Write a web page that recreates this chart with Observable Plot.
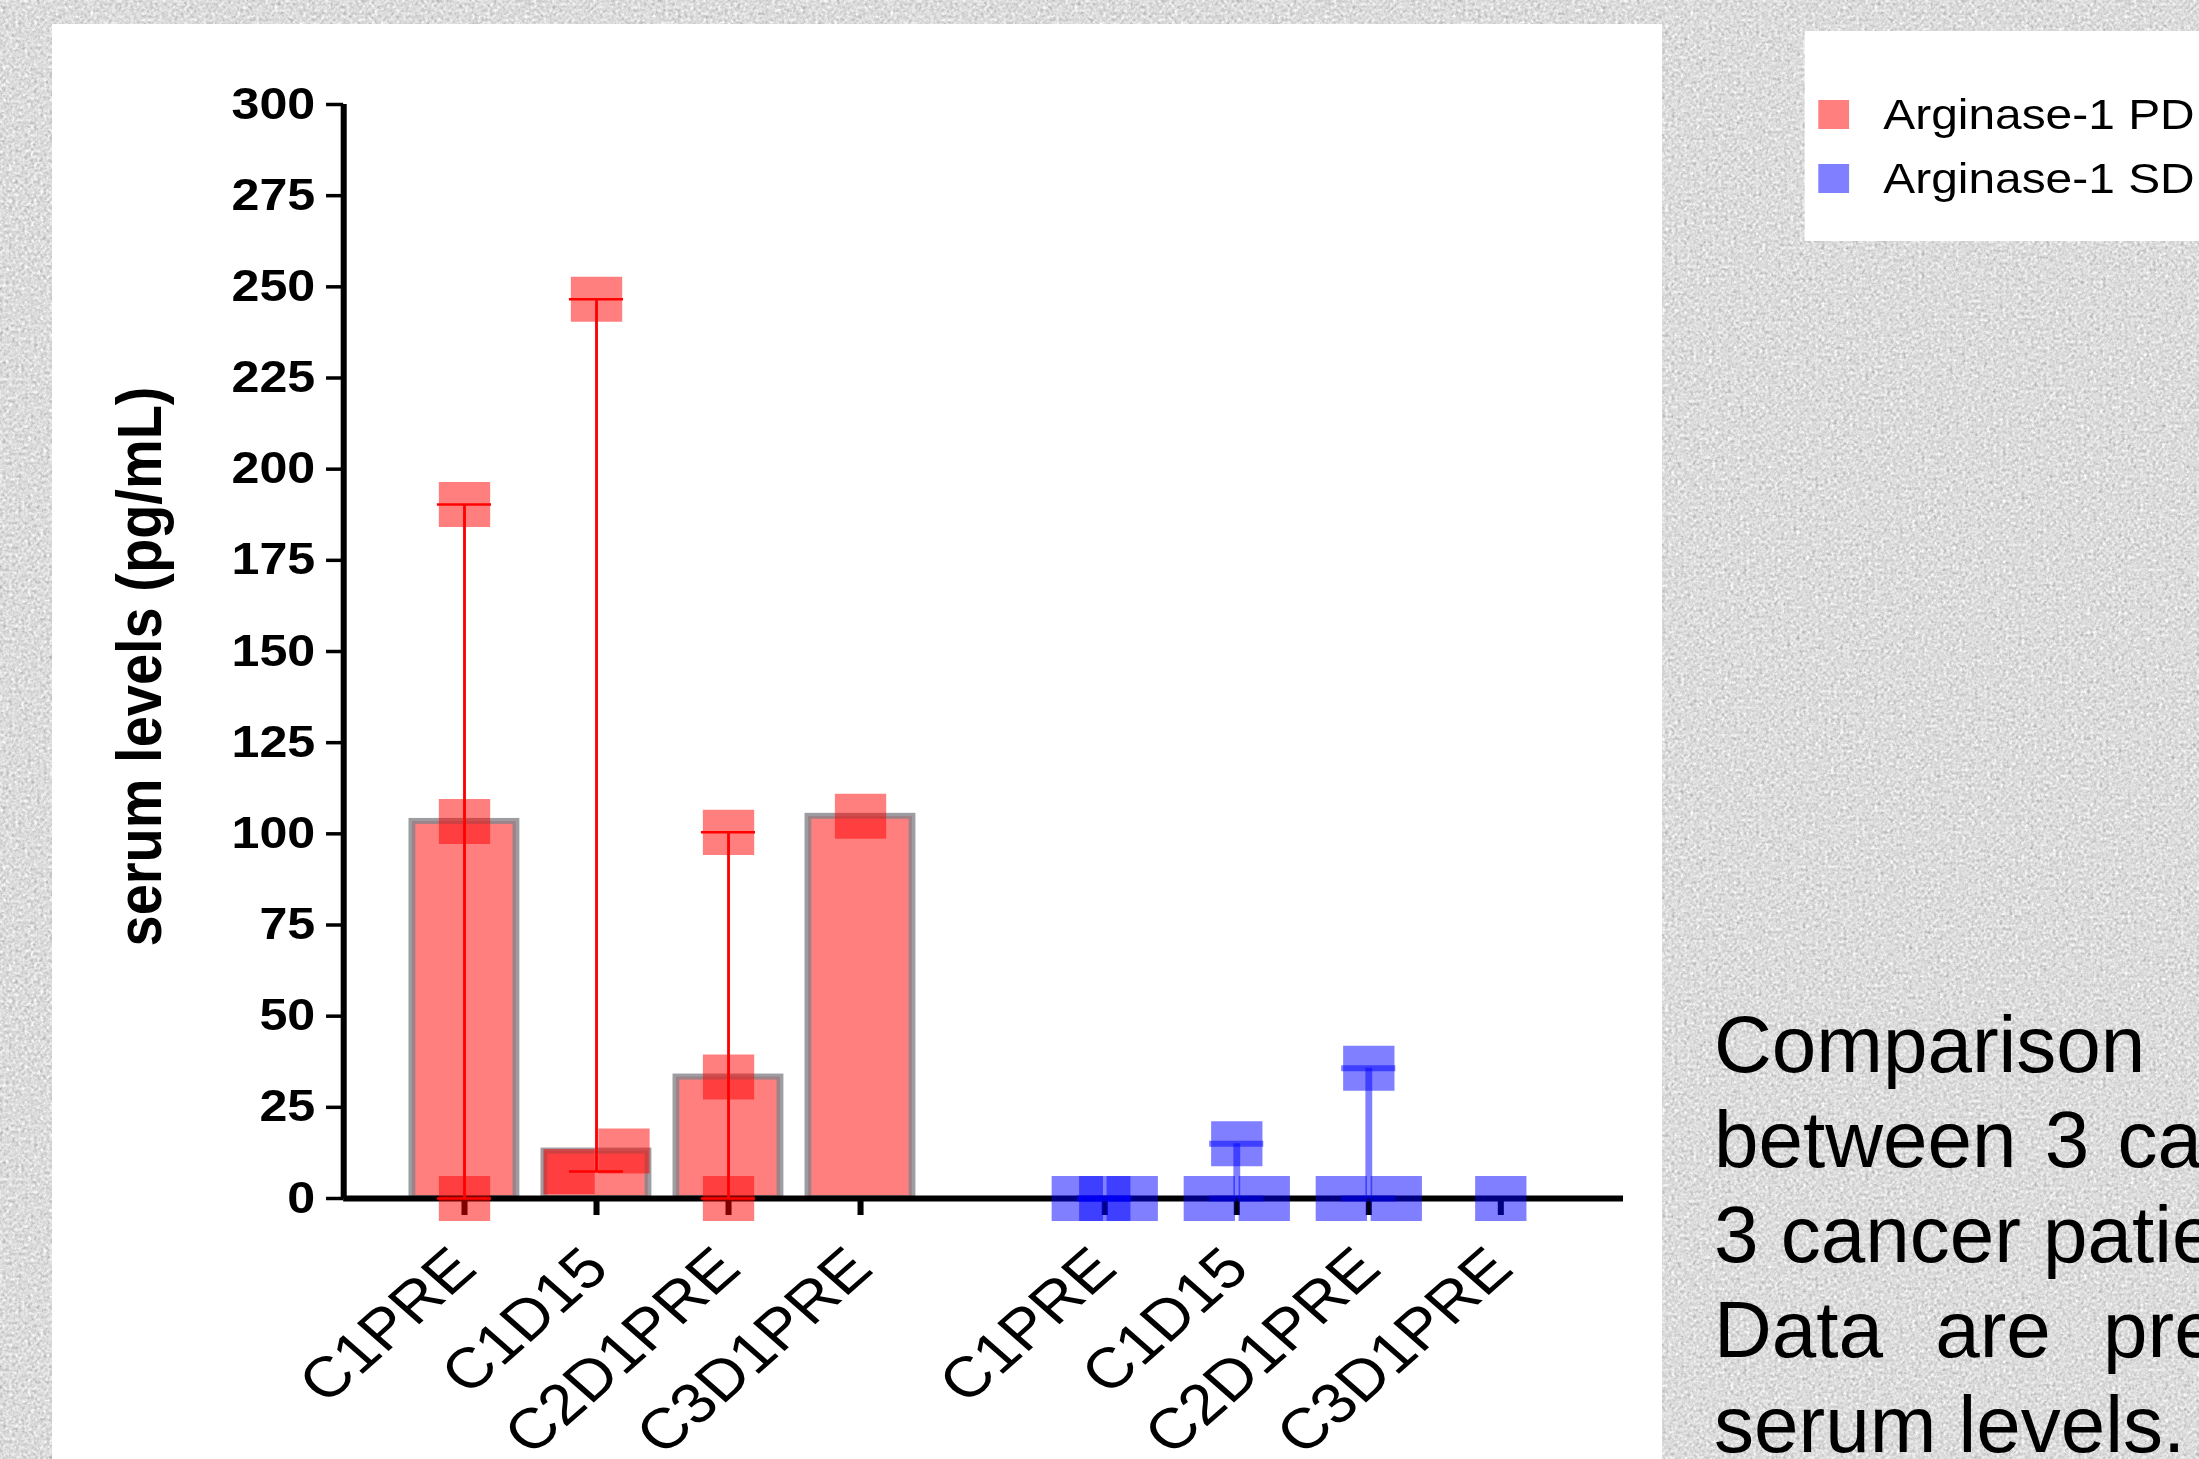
<!DOCTYPE html>
<html><head><meta charset="utf-8">
<script src="https://cdn.jsdelivr.net/npm/d3@7"></script>
<script src="https://cdn.jsdelivr.net/npm/@observablehq/plot@0.6"></script>
<style>
html,body{margin:0;padding:0;width:2199px;height:1459px;overflow:hidden;background:#dcdcdc;font-family:"Liberation Sans",Arial,sans-serif;}
#bg{position:absolute;left:0;top:0;}
#panel{position:absolute;left:52px;top:24px;width:1610px;height:1435px;background:#fff;}
#stretch{position:absolute;left:0;top:0;width:1930px;height:1459px;transform:scaleX(1.14);transform-origin:0 0;}
#chart{position:absolute;left:0;top:0;width:1500px;}
#legend{position:absolute;left:1583px;top:31px;width:400px;height:210px;background:#fff;}
.sw{position:absolute;left:11.5px;width:27px;height:29px;}
.lab{position:absolute;left:69px;font-size:42px;line-height:42px;color:#000;white-space:nowrap;}
.cap{position:absolute;left:1714px;font-size:80px;line-height:80px;color:#000;white-space:nowrap;}
</style></head>
<body>
<svg id="bg" width="2199" height="1459">
  <filter id="noise" x="0" y="0" width="100%" height="100%" color-interpolation-filters="sRGB">
    <feTurbulence type="fractalNoise" baseFrequency="0.32" numOctaves="3" seed="7" result="t"/>
    <feColorMatrix in="t" type="matrix" values="0.22 0.22 0.22 0 0.53  0.22 0.22 0.22 0 0.53  0.22 0.22 0.22 0 0.53  0 0 0 0 1"/>
  </filter>
  <rect width="2199" height="1459" filter="url(#noise)"/>
</svg>
<div id="panel"></div>
<div id="stretch"><div id="chart"></div><div id="legend"></div></div>
<div id="caption"></div>
<script>
// ---- data ----
const timepoints = ["C1PRE", "C1D15", "C2D1PRE", "C3D1PRE"];
const groups = ["Arginase-1 PD", "Arginase-1 SD"];
const groupColors = ["rgb(255,0,0)", "rgb(0,0,255)"];
// individual patient values per timepoint (pg/mL)
const pdValues = [[190.3, 103.4, 0], [246.6, 13.0, 7.4], [100.4, 33.3, 0], [104.8]];
const sdValues = [[0, 0, 0], [15.0, 0, 0], [35.7, 0, 0], [0]];
const yTicks = [0, 25, 50, 75, 100, 125, 150, 175, 200, 225, 250, 275, 300];
const yLabel = "serum levels (pg/mL)";
const captionLines = [
  "Comparison of Arginase-1 serum",
  "between 3 cancer patients with PD and",
  "3 cancer patients with SD.",
  "Data are presented as median",
  "serum levels."
];

// ---- layout / style constants ----
const GAP = 4.85;        // category steps between first bars of the two groups
const BAR_HALF = 0.394;  // half bar width in category steps
const CAP_HALF = 0.205;  // half whisker-cap width
const DODGE = 0.208;     // horizontal spread of overlapping points
const whiskerStyle = [
  {strokeWidth: 2.5, strokeOpacity: 1},
  {strokeWidth: 6, strokeOpacity: 0.5}
];

const barMarks = [], dotMarks = [], whiskerMarks = [];
const tickPos = [], labelData = [];
[pdValues, sdValues].forEach((vals, g) => {
  const color = groupColors[g];
  const pts = [], bars = [], wh = [], caps = [];
  vals.forEach((arr, i) => {
    const pos = g * GAP + i;
    tickPos.push(pos);
    labelData.push({pos, label: timepoints[i]});
    const sorted = arr.slice().sort((a, b) => a - b);
    const clusters = [];
    sorted.forEach(v => {
      const c = clusters[clusters.length - 1];
      if (c && v - c[0] < 12) c.push(v); else clusters.push([v]);
    });
    clusters.forEach(c => {
      const n = c.length;
      const offs = n === 2 ? [-1, 1] : c.map((_, k) => k - (n - 1) / 2);
      c.forEach((v, k) => pts.push({x: pos + offs[k] * DODGE, v}));
    });
    bars.push({pos, med: d3.median(arr)});
    if (arr.length > 1) {
      wh.push({pos, lo: d3.min(arr), hi: d3.max(arr)});
      caps.push({pos, v: d3.min(arr)}, {pos, v: d3.max(arr)});
    }
  });
  barMarks.push(Plot.rect(bars.filter(d => d.med > 0), {
    x1: d => d.pos - BAR_HALF, x2: d => d.pos + BAR_HALF, y1: 0, y2: "med",
    fill: color, fillOpacity: 0.5, stroke: "#85858b", strokeOpacity: 0.8, strokeWidth: 6
  }));
  dotMarks.push(Plot.dot(pts, {x: "x", y: "v", symbol: "square", r: 25.4, fill: color, fillOpacity: 0.5, stroke: "none"}));
  const ws = whiskerStyle[g];
  whiskerMarks.push(Plot.ruleX(wh, {x: "pos", y1: "lo", y2: "hi", stroke: color, ...ws}));
  whiskerMarks.push(Plot.ruleY(caps, {y: "v", x1: d => d.pos - CAP_HALF, x2: d => d.pos + CAP_HALF, stroke: color, ...ws}));
});

const chart = Plot.plot({
  width: 1460, height: 1459,
  marginLeft: 301, marginRight: 36.3, marginTop: 104, marginBottom: 261,
  x: {type: "linear", domain: [-0.915, 8.78]},
  y: {type: "linear", domain: [0, 300]},
  style: {background: "transparent", fontFamily: "'Liberation Sans', Arial, sans-serif", overflow: "visible", maxWidth: "none", color: "#000"},
  marks: [
    ...barMarks,
    Plot.ruleY([0], {strokeWidth: 6, stroke: "#000"}),
    Plot.ruleX([-0.915], {y1: 0, y2: 300, strokeWidth: 5.3, stroke: "#000"}),
    Plot.axisY({ticks: yTicks, tickSize: 15, tickPadding: 10, fontSize: 44, fontWeight: "bold", strokeWidth: 3.5, label: null}),
    Plot.axisX({ticks: tickPos, tickSize: 17, strokeWidth: 5.3, tickFormat: () => "", label: null}),
    ...dotMarks,
    ...whiskerMarks,
    Plot.text(labelData, {x: "pos", frameAnchor: "bottom", text: "label", rotate: -45, textAnchor: "end", lineAnchor: "middle", fontSize: 57, dx: 0, dy: 60}),
    Plot.text([yLabel], {frameAnchor: "left", rotate: -90, textAnchor: "middle", lineAnchor: "middle", dx: -178, dy: 15, fontSize: 56, fontWeight: "bold"})
  ]
});
document.getElementById("chart").appendChild(chart);

// legend
const legend = document.getElementById("legend");
groups.forEach((name, g) => {
  const sw = document.createElement("div");
  sw.className = "sw";
  sw.style.top = (69 + g * 64) + "px";
  sw.style.background = groupColors[g].replace("rgb", "rgba").replace(")", ",0.5)");
  legend.appendChild(sw);
  const lab = document.createElement("div");
  lab.className = "lab";
  lab.style.top = (63.3 + g * 64) + "px";
  lab.textContent = name;
  legend.appendChild(lab);
});

// caption
const wordSpacing = [90, 6, 0, 30, 0];
const cap = document.getElementById("caption");
captionLines.forEach((line, k) => {
  const d = document.createElement("div");
  d.className = "cap";
  d.style.top = (1005 + k * 95) + "px";
  d.style.wordSpacing = wordSpacing[k] + "px";
  d.textContent = line;
  cap.appendChild(d);
});
</script>
</body></html>
